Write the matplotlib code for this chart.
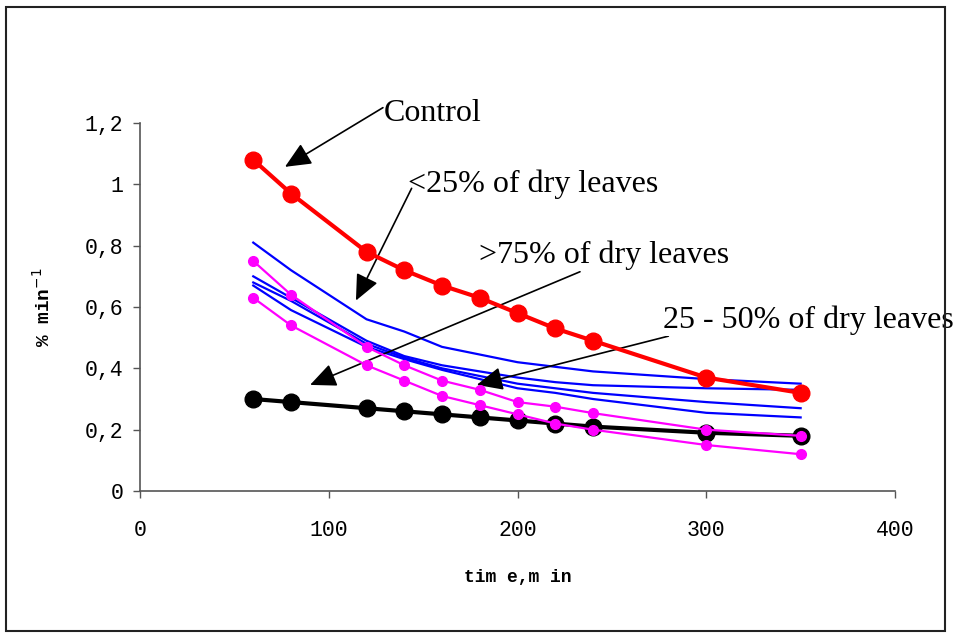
import matplotlib
matplotlib.use('Agg')
import matplotlib.pyplot as plt
from matplotlib.patches import Rectangle
from matplotlib.ticker import FuncFormatter

# sampling times, min
time = [60, 80, 120, 140, 160, 180, 200, 220, 240, 300, 350]

# rate, % min-1
control = [1.08, 0.97, 0.78, 0.72, 0.67, 0.63, 0.58, 0.53, 0.49, 0.37, 0.32]
dry_75 = [0.30, 0.29, 0.27, 0.26, 0.25, 0.24, 0.23, 0.22, 0.21, 0.19, 0.18]
dry_25_50_a = [0.75, 0.64, 0.47, 0.41, 0.36, 0.33, 0.29, 0.275, 0.254, 0.20, 0.18]
dry_25_50_b = [0.63, 0.54, 0.41, 0.36, 0.31, 0.28, 0.25, 0.22, 0.20, 0.15, 0.12]
dry_25_a = [0.81, 0.72, 0.56, 0.52, 0.47, 0.445, 0.42, 0.405, 0.39, 0.365, 0.35]
dry_25_b = [0.70, 0.63, 0.49, 0.44, 0.41, 0.39, 0.37, 0.355, 0.345, 0.335, 0.33]
dry_25_c = [0.68, 0.62, 0.48, 0.435, 0.40, 0.375, 0.35, 0.335, 0.32, 0.29, 0.27]
dry_25_d = [0.67, 0.59, 0.47, 0.43, 0.395, 0.365, 0.335, 0.32, 0.30, 0.255, 0.24]

xticks = [0, 100, 200, 300, 400]
yticks = [0, 0.2, 0.4, 0.6, 0.8, 1.0, 1.2]

fig = plt.figure(figsize=(9.55, 6.33), dpi=100)
ax = fig.add_axes([0.1466, 0.2243, 0.7906, 0.5814])

# outer chart frame
fig.patches.append(Rectangle((0.0068, 0.0032), 0.9827, 0.9865, transform=fig.transFigure,
                             fill=False, edgecolor='#222222', linewidth=1.5))

for s in [dry_25_a, dry_25_b, dry_25_c, dry_25_d]:
    ax.plot(time, s, color='#0000FF', lw=1.6, zorder=2)
ax.plot(time, dry_75, color='black', lw=3, marker='o', ms=12, zorder=3)
for s in [dry_25_50_a, dry_25_50_b]:
    ax.plot(time, s, color='#FF00FF', lw=1.6, marker='o', ms=7, zorder=4)
ax.plot(time, control, color='#FF0000', lw=3, marker='o', ms=12, zorder=5)

ax.set_xlim(0, 400)
ax.set_ylim(0, 1.2)
ax.set_xticks(xticks)
ax.set_yticks(yticks)
ax.yaxis.set_major_formatter(FuncFormatter(lambda v, p: ('%g' % round(v, 1)).replace('.', ',')))
for sp in ['top', 'right']:
    ax.spines[sp].set_visible(False)
for sp in ['left', 'bottom']:
    ax.spines[sp].set_color('#555555')
    ax.spines[sp].set_linewidth(1.2)
ax.tick_params(direction='out', length=5, width=1, color='#555555',
               labelsize=15.5, pad=7)
ax.tick_params(axis='x', pad=16)
for lab in ax.get_xticklabels() + ax.get_yticklabels():
    lab.set_family('Liberation Mono')

ax.set_xlabel('tim e,m in', family='Liberation Mono', fontweight='bold', fontsize=13, labelpad=20)
ax.set_ylabel('% min$^{-1}$', family='Liberation Mono', fontweight='bold', fontsize=14, labelpad=22)

# callouts
arrow = dict(arrowstyle='-|>,head_length=0.8,head_width=0.36', mutation_scale=20,
             color='black', lw=1.2, shrinkA=0, shrinkB=0)
ax.annotate('', xy=(76.8, 1.057), xytext=(128.7, 1.250), arrowprops=arrow, annotation_clip=False)
ax.annotate('', xy=(114.4, 0.621), xytext=(143.9, 0.987), arrowprops=arrow, annotation_clip=False)
ax.annotate('', xy=(90.1, 0.346), xytext=(233.1, 0.715), arrowprops=arrow, annotation_clip=False)
ax.annotate('', xy=(178.4, 0.346), xytext=(279.9, 0.505), arrowprops=arrow, annotation_clip=False)

tfont = dict(family='Liberation Serif', fontsize=23, va='baseline', ha='left')
ax.text(129.3, 1.2075, 'Control', **tfont)
ax.text(142.0, 0.976, '<25% of dry leaves', **tfont)
ax.text(179.6, 0.7425, '>75% of dry leaves', **tfont)
ax.text(277.1, 0.5325, '25 - 50% of dry leaves', zorder=10,
        bbox=dict(facecolor='white', edgecolor='none', pad=1), **tfont)

fig.savefig('out.png', dpi=100)
